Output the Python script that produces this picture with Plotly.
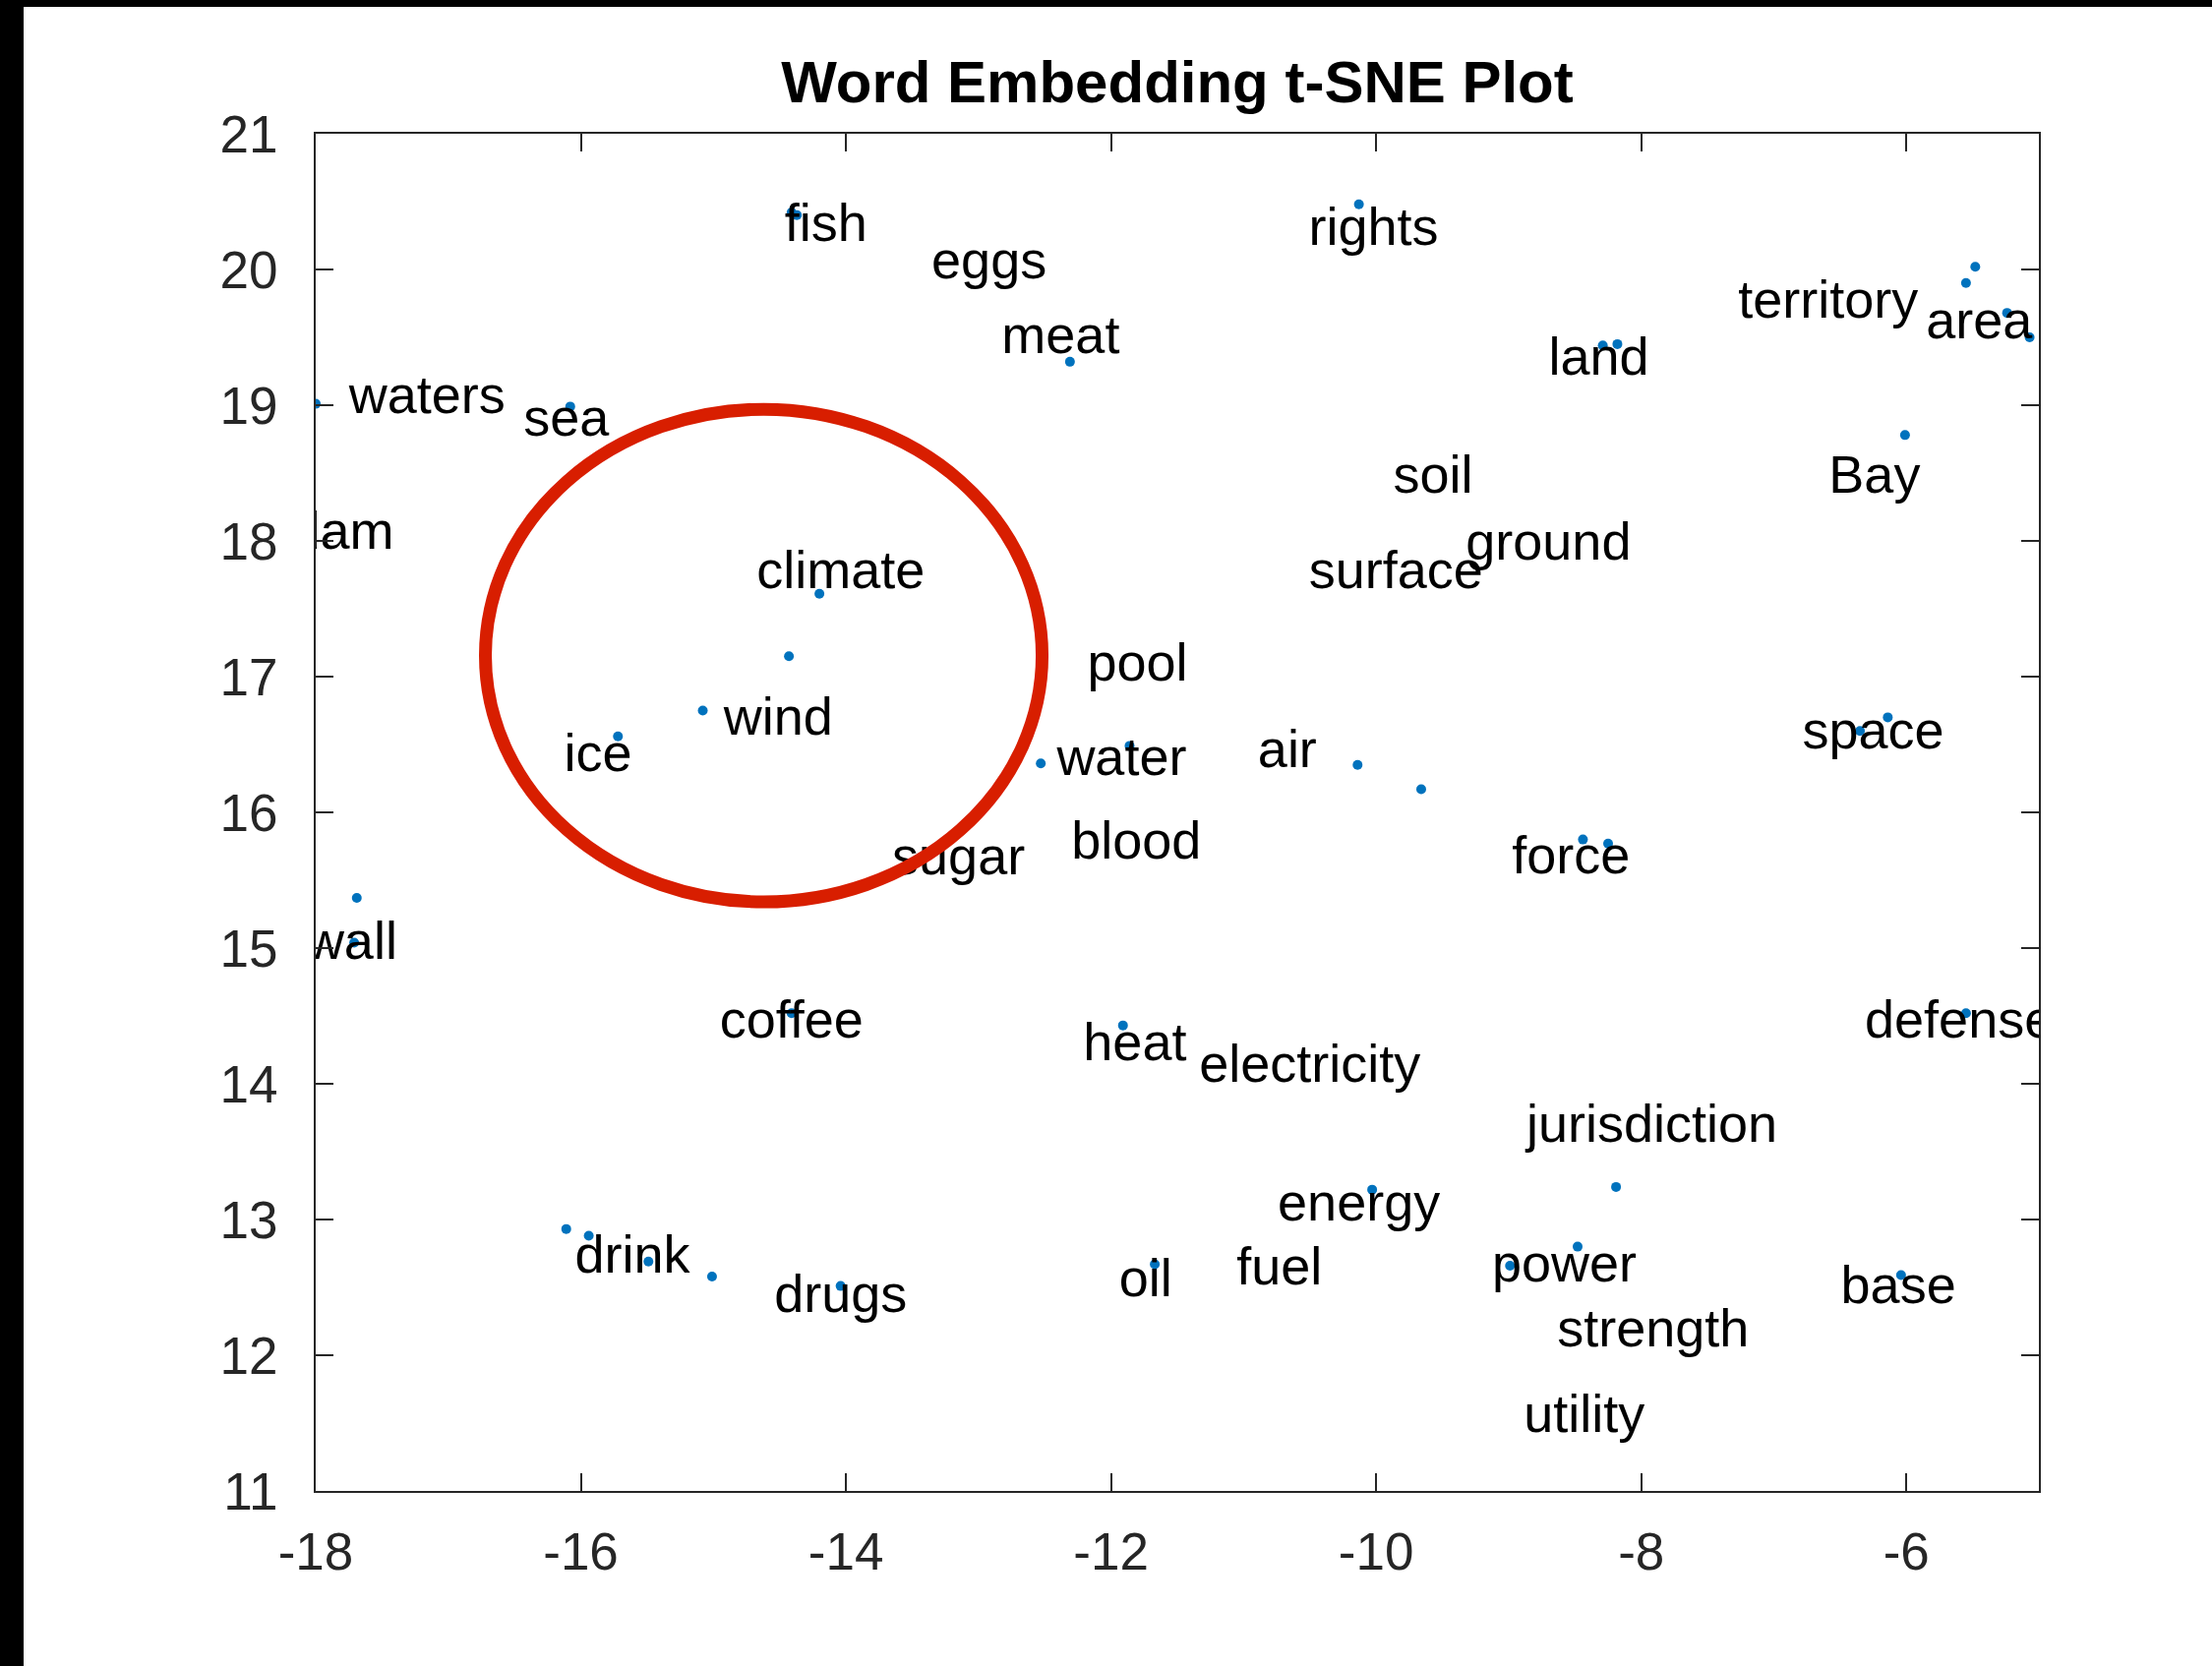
import plotly.graph_objects as go

# Word labels (text positions, data coords)
words = ["fish", "eggs", "meat", "rights", "territory", "area", "land", "waters", "sea",
         "soil", "Bay", "dam", "wall", "climate", "surface", "ground", "pool", "wind",
         "ice", "water", "air", "space", "sugar", "blood", "force", "coffee", "heat",
         "electricity", "defense", "jurisdiction", "energy", "drink", "drugs", "oil",
         "fuel", "power", "base", "strength", "utility"]
word_x = [-14.15, -12.92, -12.38, -10.02, -6.59, -5.45, -8.32, -17.16, -16.11,
          -9.57, -6.24, -17.80, -17.73, -14.04, -9.85, -8.70, -11.80, -14.51,
          -15.87, -11.92, -10.67, -6.25, -13.15, -11.81, -8.53, -14.41, -11.82,
          -10.50, -5.60, -7.92, -10.13, -15.61, -14.04, -11.74,
          -10.73, -8.58, -6.06, -7.91, -8.43]
word_y = [20.31, 20.03, 19.48, 20.28, 19.74, 19.59, 19.32, 19.04, 18.87,
          18.45, 18.45, 18.04, 15.02, 17.75, 17.75, 17.96, 17.07, 16.67,
          16.40, 16.37, 16.43, 16.57, 15.64, 15.76, 15.65, 14.44, 14.27,
          14.11, 14.44, 13.67, 13.09, 12.71, 12.42, 12.53,
          12.62, 12.64, 12.48, 12.16, 11.53]

# Embedding points (data coords)
dot_x = [-14.41, -14.37, -10.13, -5.48, -5.55, -5.24, -5.07, -8.18, -8.29, -12.31,
         -16.08, -18.00, -6.01, -14.20, -14.43, -15.08, -15.72, -12.53, -11.86, -10.14,
         -9.66, -6.14, -6.35, -8.44, -8.25, -17.69, -17.71, -14.41, -11.91, -16.11,
         -15.94, -15.49, -15.01, -14.04, -11.67, -10.03, -8.19, -8.48, -8.99, -6.04,
         -5.55]
dot_y = [20.42, 20.40, 20.48, 20.02, 19.90, 19.68, 19.50, 19.45, 19.44, 19.32,
         18.99, 19.01, 18.78, 17.61, 17.15, 16.75, 16.56, 16.36, 16.49, 16.35,
         16.17, 16.70, 16.60, 15.80, 15.77, 15.37, 15.04, 14.52, 14.43, 12.93,
         12.88, 12.69, 12.58, 12.51, 12.67, 13.22, 13.24, 12.80, 12.66, 12.59,
         14.52]

x_ticks = [-18, -16, -14, -12, -10, -8, -6]
x_tick_labels = ["-18", "-16", "-14", "-12", "-10", "-8", "-6"]
y_ticks = [11, 12, 13, 14, 15, 16, 17, 18, 19, 20, 21]
y_tick_labels = ["11", "12", "13", "14", "15", "16", "17", "18", "19", "20", "21"]

# Highlight ellipse bounds (data coords)
ell_x = [-16.72, -12.52]
ell_y = [15.34, 18.97]

W, H = 2249, 1694
L, R, T, B = 321, 2073, 136, 1516
pw, ph = R - L, B - T

FONT = "Liberation Sans, Arial, Helvetica, sans-serif"
AX = "#262626"

fig = go.Figure()
fig.add_trace(go.Scatter(x=dot_x, y=dot_y, mode="markers",
                         marker=dict(color="#0072BD", size=10, line=dict(width=0)),
                         hoverinfo="skip", showlegend=False))
fig.add_trace(go.Scatter(x=word_x, y=word_y, mode="text", text=words,
                         textposition="middle center",
                         textfont=dict(family=FONT, size=54, color="#000000"),
                         showlegend=False))

axis_common = dict(showgrid=False, zeroline=False, showline=True, linecolor=AX,
                   linewidth=2, mirror="ticks", ticks="inside", ticklen=18,
                   tickwidth=2, tickcolor=AX,
                   tickfont=dict(family=FONT, size=53, color=AX))

fig.update_layout(
    width=W, height=H,
    margin=dict(l=L, r=W - R, t=T, b=H - B),
    paper_bgcolor="white", plot_bgcolor="white",
    xaxis=dict(range=[-18, -5], tickvals=x_ticks, ticktext=x_tick_labels,
               ticklabelstandoff=14, **axis_common),
    yaxis=dict(range=[11, 21], tickvals=y_ticks, ticktext=y_tick_labels,
               ticklabelstandoff=26, **axis_common),
    title=dict(text="<b>Word Embedding t-SNE Plot</b>", x=(L + R) / 2 / W, xref="container",
               y=1 - 83 / H, yref="container", xanchor="center", yanchor="middle",
               font=dict(family=FONT, size=60, color="#000000")),
    shapes=[
        dict(type="circle", xref="x", yref="y", x0=ell_x[0], x1=ell_x[1],
             y0=ell_y[0], y1=ell_y[1], line=dict(color="#D81E00", width=13),
             layer="above"),
        # black frame strips at the left and top of the picture
        dict(type="rect", xref="paper", yref="paper", x0=-L / pw, x1=(24 - L) / pw,
             y0=-(H - B) / ph, y1=1 + T / ph, fillcolor="black", line=dict(width=0)),
        dict(type="rect", xref="paper", yref="paper", x0=-L / pw, x1=(W - L) / pw,
             y0=1 + (T - 7) / ph, y1=1 + T / ph, fillcolor="black", line=dict(width=0)),
    ],
)

fig.write_html("out.html", config={"displayModeBar": False},
               post_script="document.body.style.margin='0px';"
                           "document.body.style.overflow='hidden';")
